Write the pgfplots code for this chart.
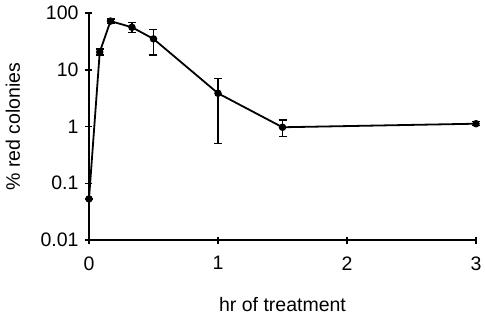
\documentclass[border=0pt]{standalone}
\usepackage{pgfplots}
\pgfplotsset{compat=1.18}
\usepackage{fontspec}
\setmainfont{Liberation Sans}
\begin{document}
\begin{tikzpicture}
\begin{axis}[
  scale only axis,
  width=387pt, height=227pt,
  ymode=log,
  xmin=0, xmax=3,
  ymin=0.01, ymax=100,
  xtick={0,1,2,3},
  ytick={0.01,0.1,1,10,100},
  yticklabels={0.01,0.1,1,10,100},
  yminorticks=false,
  axis x line=bottom,
  axis y line=left,
  axis line style={-, line width=1.6pt},
  /pgf/number format/assume math mode=true,
  tick label style={font=\fontsize{19.5}{23}\selectfont},
  xticklabel style={anchor=north, yshift=-16.5pt},
  yticklabel style={anchor=east, xshift=-10.5pt},
  label style={font=\fontsize{19.5}{23}\selectfont},
  clip=false,
  xlabel={hr of treatment},
  ylabel={\% red colonies},
  xlabel style={at={(axis description cs:0.5,-0.284)}, anchor=center},
  ylabel style={at={(axis description cs:-0.1964,0.5)}, anchor=center},
  major tick length=-7pt,
  major tick style={black, line width=1.5pt},
]
\addplot[black, line width=1.8pt, mark=*, mark size=2.8pt,
  error bars/.cd, y dir=both, y explicit,
  error bar style={line width=1.4pt},
  error mark options={rotate=90, mark size=4pt, line width=1.4pt}]
  table[x=x, y=y, y error plus=ep, y error minus=em] {
x y ep em
0 0.053 0 0
0.0833 20.5 2.7 2.3
0.1667 72 7 6
0.3333 56 11.6 10.3
0.5 35 16.6 16.8
1 3.85 3.2 3.35
1.5 0.97 0.33 0.31
3 1.12 0.1 0.08
};
\coordinate (bl) at (rel axis cs:-0.22997,-0.3348);
\coordinate (tr) at (rel axis cs:1.02326,1.0573);
\end{axis}
\pgfresetboundingbox
\useasboundingbox (bl) rectangle (tr);
\end{tikzpicture}
\end{document}
